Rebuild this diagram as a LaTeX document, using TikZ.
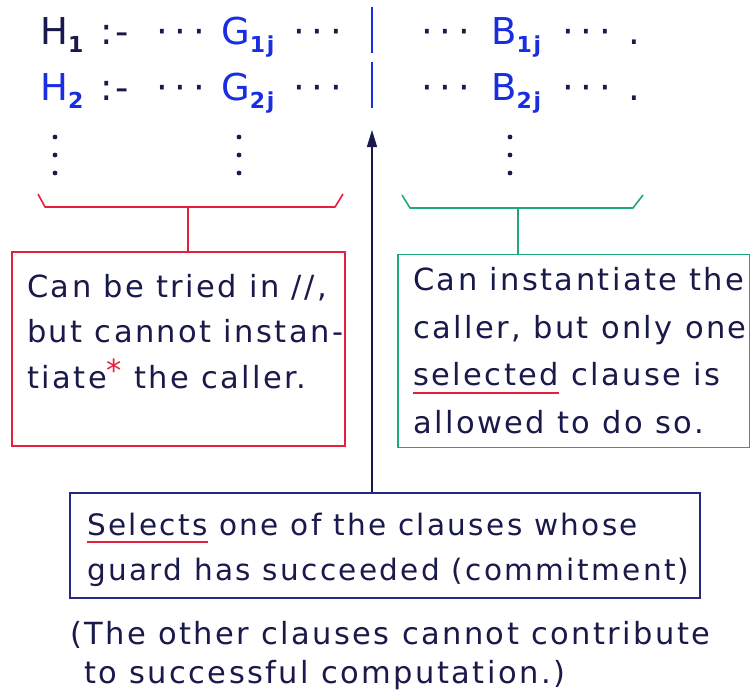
\documentclass[tikz,border=0pt]{standalone}
\usepackage{fontspec}
\setmainfont{DejaVu Sans}[LetterSpace=8]
\usetikzlibrary{arrows.meta, positioning}
\definecolor{clnavy}{RGB}{25, 25, 75}
\definecolor{clblue}{RGB}{25, 45, 225}
\definecolor{clred}{RGB}{228, 32, 62}
\definecolor{clgreen}{RGB}{30, 170, 120}
\definecolor{boxnavy}{RGB}{40, 40, 130}
\newcommand{\lowidx}[1]{\raisebox{-8pt}{\fontsize{22}{22}\selectfont\bfseries #1}}
\newcommand{\dotrun}{·\hspace{7pt}·\hspace{7pt}·}
\newcommand{\redline}[1]{\setbox0\hbox{#1}%
  \rlap{\textcolor{clred}{\rule[-8pt]{\wd0}{1.8pt}}}\box0\relax}

\begin{document}
\begin{tikzpicture}[
  x=1pt, y=-1pt,
  every node/.style={font=\fontsize{30.5}{45.5}\selectfont, text=clnavy, inner sep=0pt},
  txt/.style={anchor=base west, font=\fontsize{37}{37}\selectfont},
  para/.style={anchor=base west, align=left},
  box/.style={draw, line width=1.6pt},
  redbox/.style={box, draw=clred, minimum width=333, minimum height=194},
  greenbox/.style={box, draw=clgreen, minimum width=352, minimum height=193},
  selbox/.style={box, draw=boxnavy, minimum width=630, minimum height=105},
  brace/.style={line width=1.6pt, line join=round},
  bar/.style={line width=2.6pt, clblue},
  arrow/.style={-{Triangle[length=17pt, width=10pt]}, line width=1.4pt, boxnavy!60!black}
]
\useasboundingbox (0,0) rectangle (750,696);

% ── Clauses ──────────────────────────────────────────────────────────────────
\foreach \r/\y/\hcol in {1/45/clnavy, 2/100/clblue} {
  \node[txt, text=\hcol] (h\r) at (40,\y) {H\lowidx{\r}};
  \node[txt] (neck\r) at (100,\y) {:-};
  \node[txt] (dotsa\r) at (156,\y) {\dotrun};
  \node[txt, text=clblue] (g\r) at (221,\y) {G\lowidx{\r j}};
  \node[txt] (dotsb\r) at (293,\y) {\dotrun};
  \draw[bar] (372,\y-38) -- (372,\y+8);
  \node[txt] (dotsc\r) at (421,\y) {\dotrun};
  \node[txt, text=clblue] (b\r) at (491,\y) {B\lowidx{\r j}};
  \node[txt] (dotsd\r) at (562,\y) {\dotrun};
  \node[txt] (end\r) at (628,\y) {.};
}

% vertical dots
\foreach \x in {55, 239, 510}
  \foreach \y in {137, 155, 173}
    \fill[clnavy] (\x,\y) circle (2.4);

% ── Boxes ────────────────────────────────────────────────────────────────────
\node[redbox] (tried) at (178.5,349) {};
\node[para] (triedtxt) at (27,388)
  {Can be tried in //,\\
   but cannot instan-\\
   tiate{\color{clred}\raisebox{7pt}{*}} the caller.};

\node[greenbox] (inst) at (574,351) {};
\node[para, font=\fontsize{30.5}{47.5}\selectfont] (insttxt) at (413,433)
  {Can instantiate the\\
   caller, but only one\\
   \redline{selected} clause is\\
   allowed to do so.};

\node[selbox] (select) at (385,545.5) {};
\node[para, font=\fontsize{29.5}{45}\selectfont] (selecttxt) at (87,580)
  {\redline{Selects} one of the clauses whose\\
   guard has succeeded (commitment)};

\node[para, font=\fontsize{30.5}{39}\selectfont] (note) at (70,683)
  {(The other clauses cannot contribute\\
   \hspace*{14pt}to successful computation.)};

% ── Braces and connectors ────────────────────────────────────────────────────
\coordinate (redstem) at (188,207);
\coordinate (greenstem) at (518,208);
\coordinate (bartip) at (372,130);

\draw[brace, clred] (38,194) -- (45,207) -- (335,207) -- (343,194);
\draw[brace, clred] (redstem) -- (redstem |- tried.north);

\draw[brace, clgreen] (402,195) -- (410,208) -- (633,208) -- (643,195);
\draw[brace, clgreen] (greenstem) -- (greenstem |- inst.north);

\draw[arrow] (select.north -| bartip) -- (bartip);

\end{tikzpicture}
\end{document}
